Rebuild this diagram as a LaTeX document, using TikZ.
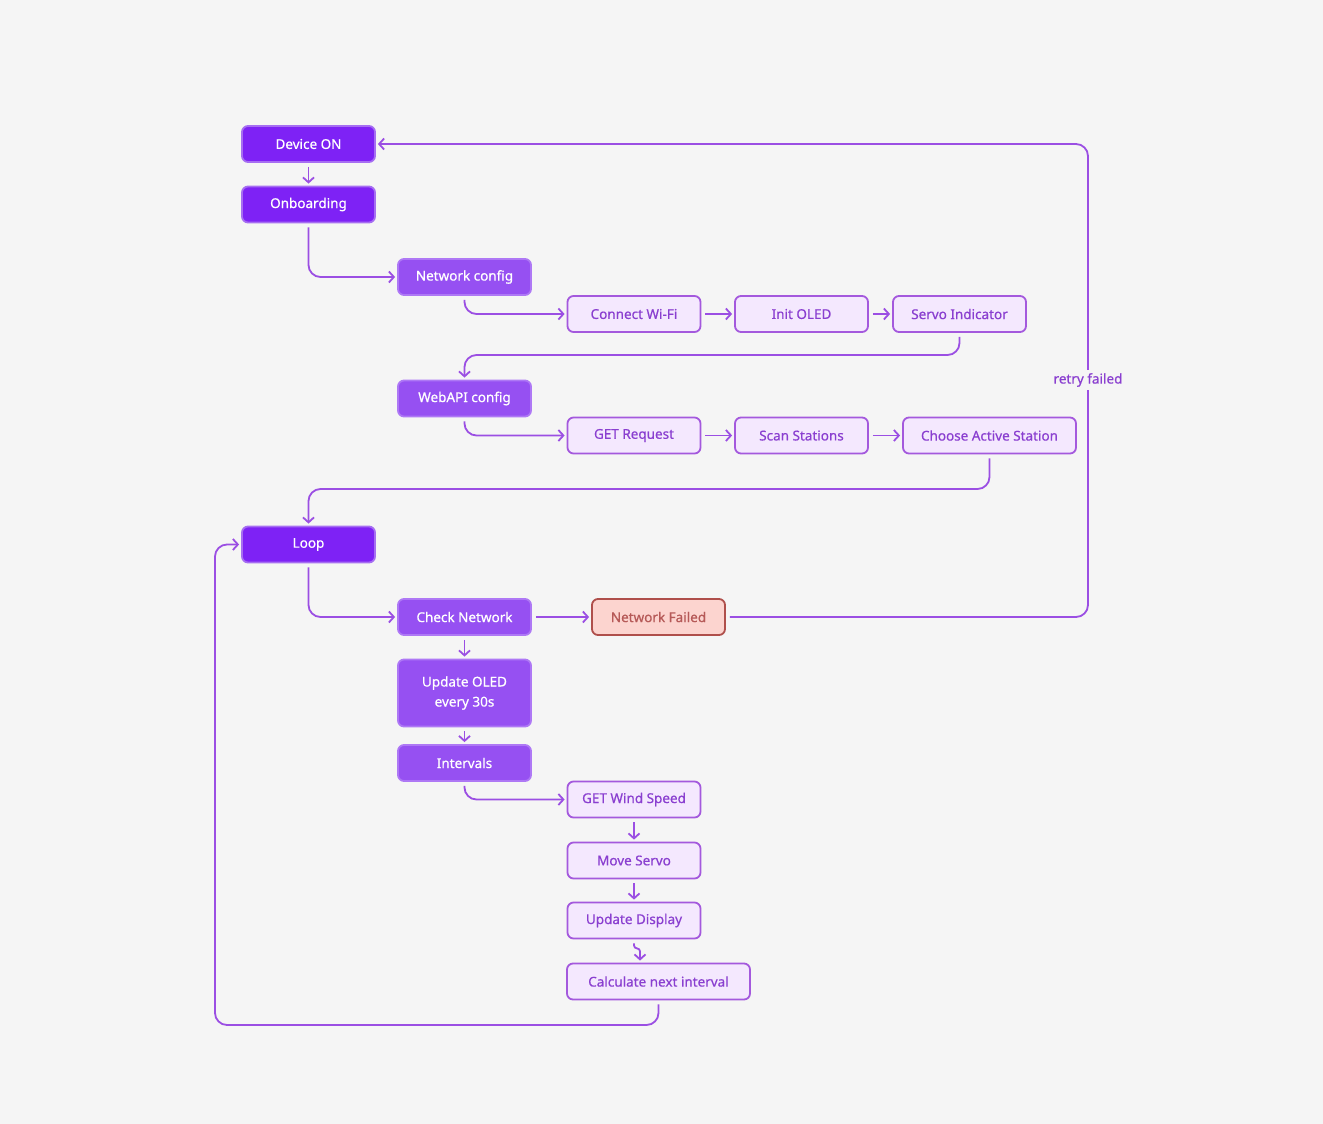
\documentclass[tikz,border=0pt]{standalone}
\usepackage{fontspec}
\setmainfont{Noto Sans}
\newfontfamily\boxfont{Noto Sans}[FakeBold=0.6]
\usetikzlibrary{arrows.meta}

\definecolor{bgcol}{HTML}{F5F5F5}
\definecolor{deep}{HTML}{7E22F5}
\definecolor{deepline}{HTML}{A66EF2}
\definecolor{mid}{HTML}{9650F2}
\definecolor{midline}{HTML}{AE78F5}
\definecolor{pale}{HTML}{F4E8FE}
\definecolor{paleline}{HTML}{A459DD}
\definecolor{paletext}{HTML}{8A3FD0}
\definecolor{failfill}{HTML}{FCD4CF}
\definecolor{failline}{HTML}{AF4F4B}
\definecolor{failtext}{HTML}{B65A58}
\definecolor{wire}{HTML}{9B4FE3}

\tikzset{
	box/.style={rectangle, rounded corners=6pt, minimum height=36pt, minimum width=133pt, line width=1.8pt, align=center, inner sep=2pt, font=\boxfont\fontsize{13.5}{20}\selectfont},
	deepbox/.style={box, fill=deep, draw=deepline, text=white},
	midbox/.style={box, fill=mid, draw=midline, text=white},
	palebox/.style={box, fill=pale, draw=paleline, text=paletext},
	failbox/.style={box, fill=failfill, draw=failline, text=failtext},
	link/.style={draw=wire, line width=1.8pt, rounded corners=12pt, shorten <=4pt, shorten >=2pt, -{Straight Barb[length=5pt,width=11pt]}}
}

\begin{document}
\begin{tikzpicture}[x=1pt, y=-1pt]
		\fill[bgcol] (0,0) rectangle (1323,1124);
		% start up
		\node[deepbox] (device) at (308.5,144) {Device ON};
		\node[deepbox] (onboard) at (308.5,204.5) {Onboarding};
		\node[midbox] (netcfg) at (464.5,277) {Network config};
		\node[palebox] (wifi) at (634,314) {Connect Wi-Fi};
		\node[palebox] (oled) at (801.5,314) {Init OLED};
		\node[palebox] (servoind) at (959.5,314) {Servo Indicator};
		\node[midbox] (webapi) at (464.5,398.5) {WebAPI config};
		\node[palebox] (getreq) at (634,435.5) {GET Request};
		\node[palebox] (scan) at (801.5,435.5) {Scan Stations};
		\node[palebox, minimum width=173pt] (choose) at (989.5,435.5) {Choose Active Station};
		% main loop
		\node[deepbox] (loop) at (308.5,544.5) {Loop};
		\node[midbox] (check) at (464.5,617) {Check Network};
		\node[failbox] (fail) at (658.5,617) {Network Failed};
		\node[midbox, minimum height=67pt] (upoled) at (464.5,693) {Update OLED\\every 30s};
		\node[midbox] (intervals) at (464.5,763) {Intervals};
		\node[palebox] (wind) at (634,799.5) {GET Wind Speed};
		\node[palebox] (move) at (634,860.5) {Move Servo};
		\node[palebox] (display) at (634,920.5) {Update Display};
		\node[palebox, minimum width=183pt] (calcnext) at (658.5,981.5) {Calculate next interval};

		\draw[link] (device) -- (onboard);
		\draw[link] (onboard.south) |- (netcfg.west);
		\draw[link] (netcfg.south) |- (wifi.west);
		\draw[link] (wifi) -- (oled);
		\draw[link] (oled) -- (servoind);
		\draw[link] (servoind.south) -- (servoind.south |- 0,355) -| (webapi.north);
		\draw[link] (webapi.south) |- (getreq.west);
		\draw[link] (getreq) -- (scan);
		\draw[link] (scan) -- (choose);
		\draw[link] (choose.south) -- (choose.south |- 0,489) -| (loop.north);
		\draw[link] (loop.south) |- (check.west);
		\draw[link] (check) -- (fail);
		\draw[link] (fail.east) -| (1088,380) |- (device.east);
		\node[fill=bgcol, text=paletext, inner sep=3pt, font=\boxfont\fontsize{13.5}{16}\selectfont] (retry) at (1088,380) {retry failed};
		\draw[link] (check) -- (upoled);
		\draw[link] (upoled) -- (intervals);
		\draw[link] (intervals.south) |- (wind.west);
		\draw[link] (wind) -- (move);
		\draw[link] (move) -- (display);
		\draw[link, rounded corners=3pt] (display.south) -- ++(0,9) -| ([xshift=-18.5pt]calcnext.north);
		\draw[link] (calcnext.south) -- (calcnext.south |- 0,1025) -| (215,544.5) -- (loop.west);
\end{tikzpicture}
\end{document}
